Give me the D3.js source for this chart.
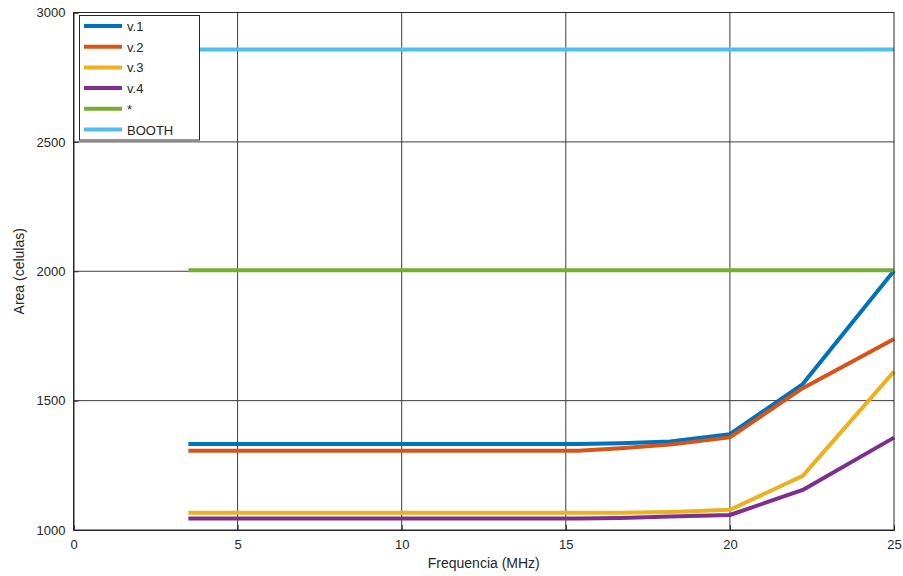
<!DOCTYPE html>
<html>
<head>
<meta charset="utf-8">
<script src="https://cdn.jsdelivr.net/npm/d3@7"></script>
<style>
  body { margin: 0; background: #fff; }
  svg text { font-family: "Liberation Sans", Arial, sans-serif; fill: #262626; }
</style>
</head>
<body>
<svg id="chart" width="903" height="576"></svg>
<script>
// frequencies (MHz)
const freq = [3.5, 15.38, 16.67, 18.18, 20, 22.22, 25];
const v1 = [1332, 1332, 1335, 1342, 1370, 1564, 2002];
const v2 = [1306, 1306, 1316, 1330, 1358, 1548, 1738];
const v3 = [1067, 1067, 1067, 1070, 1078, 1209, 1612];
const v4 = [1044, 1044, 1046, 1052, 1058, 1155, 1357];
const star = [2004, 2004, 2004, 2004, 2004, 2004, 2004];
const booth = [2857, 2857, 2857, 2857, 2857, 2857, 2857];
const seriesNames = ["v.1", "v.2", "v.3", "v.4", "*", "BOOTH"];
const colors = ["#0072BD", "#D95319", "#EDB120", "#7E2F8E", "#77AC30", "#4DBEEE"];
const xTicks = [0, 5, 10, 15, 20, 25];
const yTicks = [1000, 1500, 2000, 2500, 3000];

const series = [v1, v2, v3, v4, star, booth];

const svg = d3.select("#chart");
const mLeft = 73.5, mRight = 894, mTop = 12.5, mBottom = 530;

const x = d3.scaleLinear().domain([0, 25]).range([mLeft, mRight]);
const y = d3.scaleLinear().domain([1000, 3000]).range([mBottom, mTop]);

// grid
svg.append("g")
  .selectAll("line")
  .data(xTicks.slice(1, -1))
  .enter()
  .append("line")
  .attr("x1", d => x(d)).attr("x2", d => x(d))
  .attr("y1", mTop).attr("y2", mBottom)
  .attr("stroke", "#3c3c3c").attr("stroke-width", 1);

svg.append("g")
  .selectAll("line")
  .data(yTicks.slice(1, -1))
  .enter()
  .append("line")
  .attr("x1", mLeft).attr("x2", mRight)
  .attr("y1", d => y(d)).attr("y2", d => y(d))
  .attr("stroke", "#3c3c3c").attr("stroke-width", 1);

// lines
const line = d3.line()
  .x((d, i) => x(freq[i]))
  .y(d => y(d));

svg.append("g")
  .selectAll("path")
  .data(series)
  .enter()
  .append("path")
  .attr("d", d => line(d))
  .attr("fill", "none")
  .attr("stroke", (d, i) => colors[i])
  .attr("stroke-width", 4)
  .attr("stroke-linejoin", "round");

// axes box
svg.append("rect")
  .attr("x", mLeft).attr("y", mTop)
  .attr("width", mRight - mLeft).attr("height", mBottom - mTop)
  .attr("fill", "none")
  .attr("stroke", "#262626").attr("stroke-width", 1);

// x axis
const xAxis = svg.append("g")
  .attr("transform", "translate(0," + mBottom + ")")
  .call(d3.axisBottom(x).tickValues(xTicks).tickFormat(d3.format("d")).tickSize(-5).tickPadding(10));
xAxis.select(".domain").attr("stroke", "#262626");
xAxis.selectAll("line").attr("stroke", "#262626");
xAxis.selectAll("text").style("font-size", "13px").attr("fill", "#262626");

// y axis
const yAxis = svg.append("g")
  .attr("transform", "translate(" + mLeft + ",0)")
  .call(d3.axisLeft(y).tickValues(yTicks).tickFormat(d3.format("d")).tickSize(-5).tickPadding(8));
yAxis.select(".domain").attr("stroke", "#262626");
yAxis.selectAll("line").attr("stroke", "#262626");
yAxis.selectAll("text").style("font-size", "13px").attr("fill", "#262626");

// axis labels
svg.append("text")
  .attr("x", (mLeft + mRight) / 2).attr("y", 568)
  .attr("text-anchor", "middle")
  .style("font-size", "14px")
  .text("Frequencia (MHz)");

svg.append("text")
  .attr("transform", "translate(24," + ((mTop + mBottom) / 2) + ") rotate(-90)")
  .attr("text-anchor", "middle")
  .style("font-size", "14px")
  .text("Area (celulas)");

// legend
const legend = svg.append("g");
legend.append("rect")
  .attr("x", 79.5).attr("y", 15.5)
  .attr("width", 120).attr("height", 124.5)
  .attr("fill", "#fff")
  .attr("stroke", "#262626").attr("stroke-width", 1);

const rows = legend.selectAll("g.row")
  .data(seriesNames)
  .enter()
  .append("g")
  .attr("class", "row")
  .attr("transform", (d, i) => "translate(0," + (26 + i * 20.7) + ")");

rows.append("line")
  .attr("x1", 84).attr("x2", 122)
  .attr("y1", 0).attr("y2", 0)
  .attr("stroke", (d, i) => colors[i])
  .attr("stroke-width", 4);

rows.append("text")
  .attr("x", 127).attr("y", 5)
  .style("font-size", "13px")
  .text(d => d);
</script>
</body>
</html>
